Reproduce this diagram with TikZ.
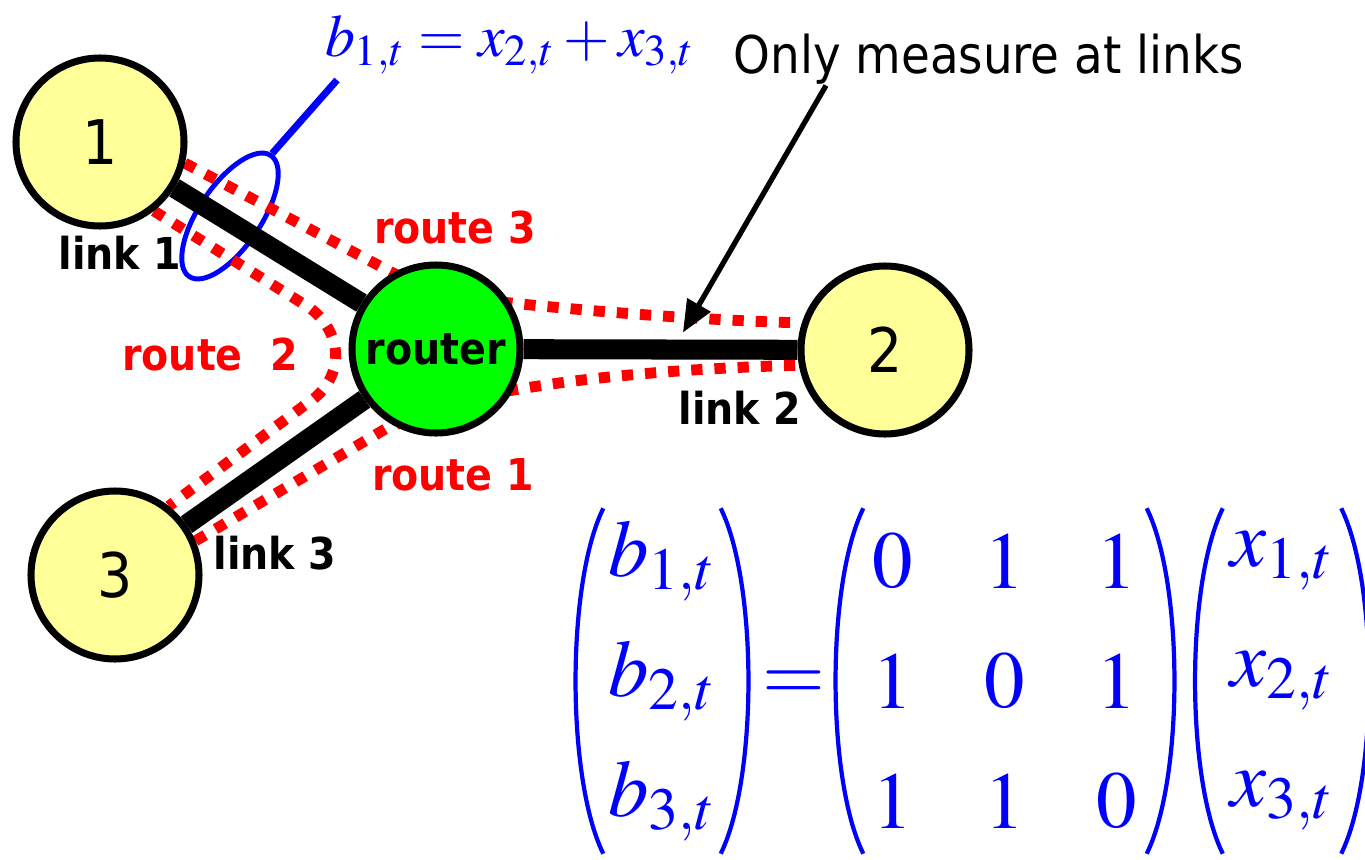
\documentclass[tikz,border=0pt]{standalone}
\usepackage{mathptmx}
\usepackage{amsmath}
\usepackage[no-math]{fontspec}
\setmainfont{DejaVu Sans Condensed}
\usepackage{tikz}
\usetikzlibrary{arrows.meta,positioning,shapes.geometric,calc,backgrounds,matrix}
\definecolor{hostyellow}{HTML}{FFFF99}
\definecolor{routergreen}{HTML}{00FF00}
\tikzset{
  net/host/.style={draw, circle, line width=2pt, fill=hostyellow, minimum size=16.8mm, inner sep=0pt, font=\fontsize{17.5}{20}\selectfont},
  net/router/.style={net/host, fill=routergreen, font=\fontsize{12.5}{15}\selectfont\bfseries},
  net/link/.style={line width=5.7pt},
  net/route/.style={red, line width=3.1pt, dash pattern=on 3.2pt off 3.4pt},
  net/linklabel/.style={font=\fontsize{12.5}{15}\selectfont\bfseries, inner sep=0pt},
  net/routelabel/.style={net/linklabel, text=red},
  net/meter/.style={draw=blue, ellipse, line width=1.4pt, minimum width=14.6mm, minimum height=6.2mm, inner sep=0pt},
  net/tag/.style={blue, line width=2pt},
  net/note/.style={font=\fontsize{14.8}{18}\selectfont, inner sep=0pt},
  arr/.style={-{Triangle[length=3.2mm,width=2.6mm]}, line width=1.5pt},
  eq/mat/.style={matrix of math nodes, inner sep=0pt,
    nodes={text=blue, font=\fontsize{23}{28}\selectfont, minimum height=12mm, minimum width=#1, inner sep=0pt, anchor=center}},
  eq/sym/.style={text=blue, font=\fontsize{23}{28}\selectfont, inner sep=0pt},
  eq/paren/.style={blue, line width=1.2pt}
}
\newcommand{\eqparens}[1]{%
  \draw[eq/paren] ([xshift=2.7mm,yshift=-0.8mm]#1.north west) .. controls +(-0.37,-0.75) and +(-0.37,0.75) .. ([xshift=2.7mm,yshift=0.8mm]#1.south west);
  \draw[eq/paren] ([xshift=-2.7mm,yshift=-0.8mm]#1.north east) .. controls +(0.37,-0.75) and +(0.37,0.75) .. ([xshift=-2.7mm,yshift=0.8mm]#1.south east);}

\begin{document}
\begin{tikzpicture}
  \useasboundingbox (0,0) rectangle (13.65,-8.60);
  \node[net/host] (one) at (1.00,-1.42) {1};
  \node[net/router] (router) at (4.36,-3.49) {router};
  \node[net/host] (two) at (8.85,-3.50) {2};
  \node[net/host] (three) at (1.15,-5.75) {3};

  \begin{scope}[on background layer]
    \node[net/meter, rotate=56] (meter) at (2.30,-2.16) {};
    \draw[net/link] (one) -- (router);
    \draw[net/link] (router) -- (two);
    \draw[net/link] (router) -- (three);
    % routes
    \draw[net/route] (one.-14) -- (3.93,-2.73) .. controls (4.40,-2.95) and (4.80,-3.00) .. (5.11,-3.03)
      .. controls (6.00,-3.12) and (7.00,-3.20) .. (two.162);
    \draw[net/route] (one.-52) -- (3.10,-3.08) .. controls (3.45,-3.35) and (3.45,-3.80) .. (3.05,-4.05) -- (three.52);
    \draw[net/route] (three.23) -- (3.87,-4.28) .. controls (4.30,-4.10) and (4.80,-3.95) .. (5.14,-3.90)
      .. controls (6.00,-3.75) and (7.00,-3.68) .. (two.190);
  \end{scope}

  \node[net/linklabel] (lk1) at (1.20,-2.53) {link 1};
  \node[net/routelabel] (rt3) at (4.55,-2.28) {route 3};
  \node[net/routelabel] (rt2) at (2.10,-3.55) {route\ \ 2};
  \node[net/linklabel] (lk2) at (7.40,-4.08) {link 2};
  \node[net/routelabel] (rt1) at (4.53,-4.75) {route 1};
  \node[net/linklabel] (lk3) at (2.75,-5.53) {link 3};

  % measurement on link 1
  \node[text=blue, font=\fontsize{17}{20}\selectfont] (bsum) at (5.10,-0.45) {$b_{1,t} = x_{2,t} + x_{3,t}$};
  \coordinate (tagend) at (3.37,-0.80);
  \draw[net/tag] (meter.east) -- (tagend);

  \node[net/note, anchor=base west] (measure) at (7.33,-0.73) {Only measure at links};
  \coordinate (probe) at ($(router)!0.55!(two) + (0,0.17)$);
  \draw[arr] ($(measure.south west)+(0.93,-0.01)$) -- (probe);

  % b = A x
  \matrix[eq/mat=17mm] (bvec) at (6.62,-6.81) {b_{1,t}\\ b_{2,t}\\ b_{3,t}\\};
  \node[eq/sym] (equals) at (7.94,-6.86) {$=$};
  \matrix[eq/mat=11.2mm] (amat) at (10.05,-6.81) {0 & 1 & 1\\ 1 & 0 & 1\\ 1 & 1 & 0\\};
  \matrix[eq/mat=17.1mm] (xvec) at (12.82,-6.81) {x_{1,t}\\ x_{2,t}\\ x_{3,t}\\};
  \eqparens{bvec}
  \eqparens{amat}
  \eqparens{xvec}
\end{tikzpicture}
\end{document}
